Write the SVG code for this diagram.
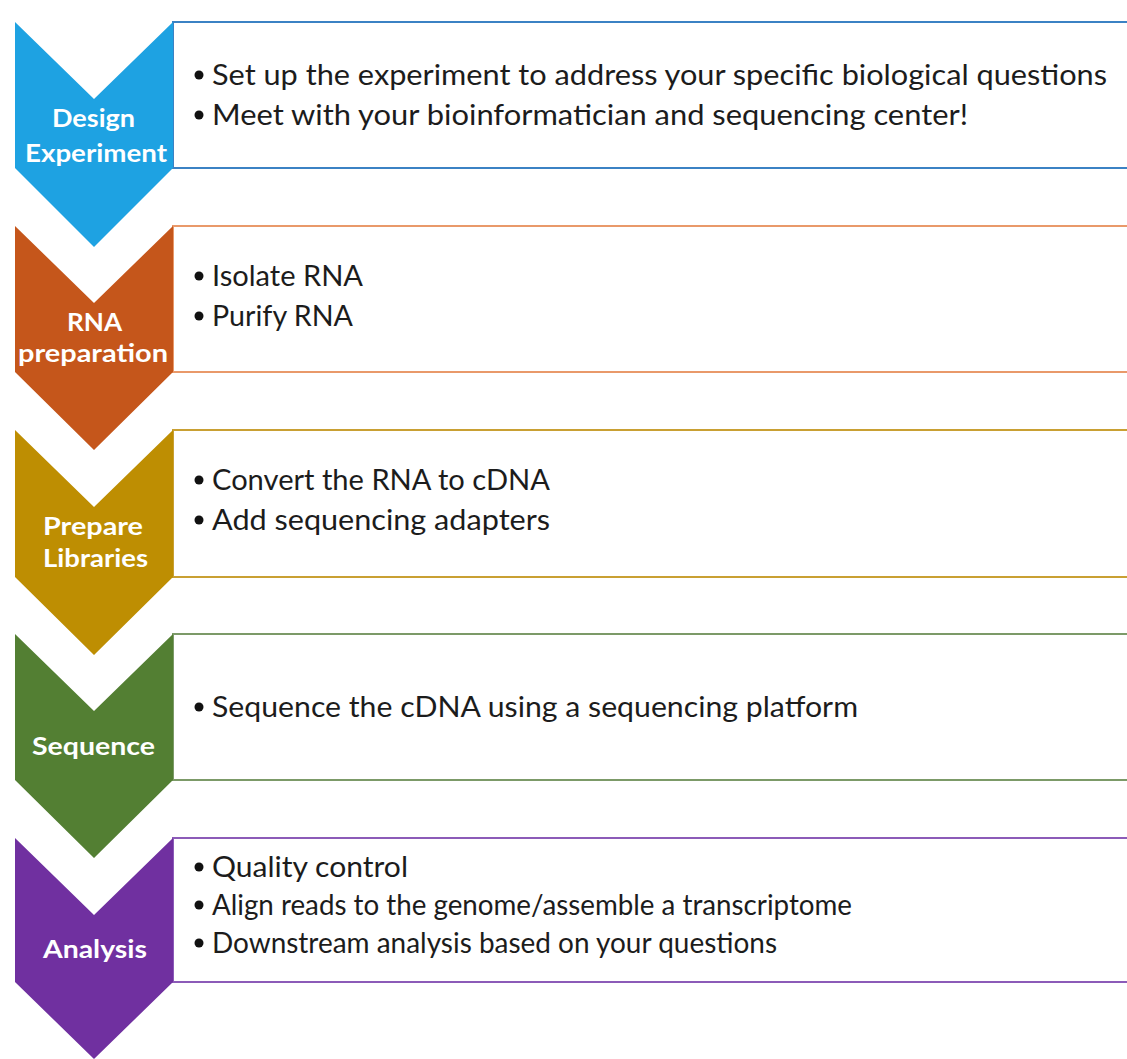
<svg xmlns="http://www.w3.org/2000/svg" width="1127" height="1059" viewBox="0 0 1127 1059">
  <style>
    .box { fill: #ffffff; stroke-width: 2; }
    .label { font-family: Lato, "Open Sans", "Liberation Sans", sans-serif; font-weight: 700; font-size: 25px; fill: #ffffff; }
    .item { font-family: Lato, "Open Sans", "Liberation Sans", sans-serif; font-size: 28.5px; fill: #1c1c1c; }
    .dot { fill: #111111; }
  </style>
  <rect x="0" y="0" width="1127" height="1059" fill="#ffffff"/>

  <!-- Step 1: design -->
  <g id="step-design">
    <rect class="box" x="173" y="22" width="970" height="146" stroke="#3B82C4"/>
    <polygon points="15,22 94,99 173,22 173,168 94,247 15,168" fill="#1EA2E2"/>
    <text class="label" x="52" y="127" textLength="83" lengthAdjust="spacingAndGlyphs">Design</text>
    <text class="label" x="25" y="162" textLength="142" lengthAdjust="spacingAndGlyphs">Experiment</text>
    <circle class="dot" cx="199" cy="75" r="4.5"/>
    <text class="item" x="212" y="85" textLength="895" lengthAdjust="spacingAndGlyphs">Set up the experiment to address your specific biological questions</text>
    <circle class="dot" cx="199" cy="115" r="4.5"/>
    <text class="item" x="212" y="125" textLength="756" lengthAdjust="spacingAndGlyphs">Meet with your bioinformatician and sequencing center!</text>
  </g>

  <!-- Step 2: RNA preparation -->
  <g id="step-rna">
    <rect class="box" x="173" y="226" width="970" height="146" stroke="#E9996A"/>
    <polygon points="15,226 94,303 173,226 173,372 94,450 15,372" fill="#C5561B"/>
    <text class="label" x="67" y="331" textLength="55" lengthAdjust="spacingAndGlyphs">RNA</text>
    <text class="label" x="18" y="362" textLength="150" lengthAdjust="spacingAndGlyphs">preparation</text>
    <circle class="dot" cx="199" cy="276" r="4.5"/>
    <text class="item" x="212" y="286" textLength="151" lengthAdjust="spacingAndGlyphs">Isolate RNA</text>
    <circle class="dot" cx="199" cy="316" r="4.5"/>
    <text class="item" x="212" y="326" textLength="141" lengthAdjust="spacingAndGlyphs">Purify RNA</text>
  </g>

  <!-- Step 3: libraries -->
  <g id="step-libraries">
    <rect class="box" x="173" y="430" width="970" height="147" stroke="#C9A033"/>
    <polygon points="15,430 94,507 173,430 173,577 94,655 15,577" fill="#BE8E02"/>
    <text class="label" x="43" y="535" textLength="100" lengthAdjust="spacingAndGlyphs">Prepare</text>
    <text class="label" x="43" y="567" textLength="105" lengthAdjust="spacingAndGlyphs">Libraries</text>
    <circle class="dot" cx="199" cy="480" r="4.5"/>
    <text class="item" x="212" y="490" textLength="338" lengthAdjust="spacingAndGlyphs">Convert the RNA to cDNA</text>
    <circle class="dot" cx="199" cy="520" r="4.5"/>
    <text class="item" x="212" y="530" textLength="338" lengthAdjust="spacingAndGlyphs">Add sequencing adapters</text>
  </g>

  <!-- Step 4: sequence -->
  <g id="step-sequence">
    <rect class="box" x="173" y="634" width="970" height="146" stroke="#7C9A68"/>
    <polygon points="15,634 94,711 173,634 173,780 94,858 15,780" fill="#537F33"/>
    <text class="label" x="32" y="755" textLength="123" lengthAdjust="spacingAndGlyphs">Sequence</text>
    <circle class="dot" cx="199" cy="707" r="4.5"/>
    <text class="item" x="212" y="717" textLength="646" lengthAdjust="spacingAndGlyphs">Sequence the cDNA using a sequencing platform</text>
  </g>

  <!-- Step 5: analysis -->
  <g id="step-analysis">
    <rect class="box" x="173" y="838" width="970" height="144" stroke="#8C5BB8"/>
    <polygon points="15,838 94,915 173,838 173,982 94,1059 15,982" fill="#7030A0"/>
    <text class="label" x="43" y="958" textLength="104" lengthAdjust="spacingAndGlyphs">Analysis</text>
    <circle class="dot" cx="199" cy="867" r="4.5"/>
    <text class="item" x="212" y="877" textLength="196" lengthAdjust="spacingAndGlyphs">Quality control</text>
    <circle class="dot" cx="199" cy="905" r="4.5"/>
    <text class="item" x="212" y="915" textLength="640" lengthAdjust="spacingAndGlyphs">Align reads to the genome/assemble a transcriptome</text>
    <circle class="dot" cx="199" cy="943" r="4.5"/>
    <text class="item" x="212" y="953" textLength="565" lengthAdjust="spacingAndGlyphs">Downstream analysis based on your questions</text>
  </g>

  <!-- flow is carried by the chevron shapes themselves -->
  <g id="connectors"></g>
</svg>
